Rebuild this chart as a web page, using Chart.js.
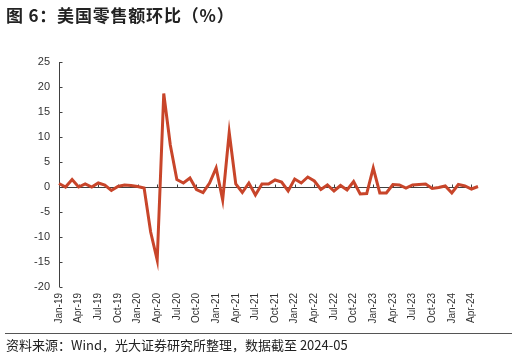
<!DOCTYPE html>
<html>
<head>
<meta charset="utf-8">
<script src="https://cdn.jsdelivr.net/npm/chart.js@4.4.1/dist/chart.umd.min.js"></script>
<style>
  html, body { margin: 0; padding: 0; background: #fff; }
  #wrap { position: relative; width: 516px; height: 363px; overflow: hidden; }
  #c { position: absolute; left: 0; top: 0; }
  #title { position: absolute; left: 6px; top: 2px; font: bold 17px "Noto Sans CJK SC", sans-serif; letter-spacing: 0.8px; color: #222; white-space: nowrap; }
  #rule { position: absolute; left: 5px; top: 333px; width: 507px; height: 1px; background: #555; }
  #src { position: absolute; left: 6px; top: 335px; font: 13px "Noto Sans CJK SC", sans-serif; color: #222; white-space: nowrap; }
</style>
</head>
<body>
<div id="wrap">
  <canvas id="c" width="516" height="363"></canvas>
  <div id="title">图 6：美国零售额环比（%）</div>
  <div id="rule"></div>
  <div id="src">资料来源：Wind，光大证券研究所整理，数据截至 2024-05</div>
</div>
<script>
const months = ["Jan","Feb","Mar","Apr","May","Jun","Jul","Aug","Sep","Oct","Nov","Dec"];
const years = ["19","20","21","22","23","24"];
const categories = [];
years.forEach(y => months.forEach(m => categories.push(m + "-" + y)));
categories.length = 65; // Jan-19 .. May-24

const retailMoM = [
  0.7, 0.0, 1.5, 0.0, 0.6, 0.0, 0.8, 0.4, -0.7, 0.1, 0.4, 0.3,
  0.1, -0.2, -9.0, -14.6, 18.7, 8.4, 1.5, 0.8, 1.8, -0.5, -1.1, 0.8,
  3.8, -2.6, 10.9, 0.6, -1.1, 0.8, -1.6, 0.6, 0.6, 1.4, 1.0, -0.8,
  1.6, 0.8, 2.0, 1.2, -0.5, 0.4, -0.8, 0.3, -0.6, 1.1, -1.4, -1.3,
  3.8, -1.2, -1.2, 0.5, 0.4, -0.2, 0.4, 0.5, 0.6, -0.3, -0.1, 0.2,
  -1.2, 0.5, 0.2, -0.4, 0.1
];

const yTicks = [25, 20, 15, 10, 5, 0, -5, -10, -15, -20];
const labelEvery = 3;

const axisPlugin = {
  id: 'axisLines',
  beforeDatasetsDraw(chart) {
    const { ctx, chartArea: a, scales: { x, y } } = chart;
    ctx.save();
    ctx.strokeStyle = '#404040';
    ctx.lineWidth = 1;
    ctx.beginPath();
    const xl = Math.round(a.left) + 0.5;
    ctx.moveTo(xl, a.top);
    ctx.lineTo(xl, a.bottom);
    y.ticks.forEach(t => {
      const py = Math.round(y.getPixelForValue(t.value)) + 0.5;
      ctx.moveTo(xl, py);
      ctx.lineTo(xl + 3, py);
    });
    const pz = Math.round(y.getPixelForValue(0)) + 0.5;
    ctx.moveTo(a.left, pz);
    ctx.lineTo(a.right, pz);
    for (let i = 0; i < categories.length; i += labelEvery) {
      const px = Math.round(x.getPixelForValue(i)) + 0.5;
      ctx.moveTo(px, pz);
      ctx.lineTo(px, pz - 3);
    }
    ctx.stroke();
    ctx.restore();
  }
};

new Chart(document.getElementById('c'), {
  type: 'line',
  data: {
    labels: categories,
    datasets: [{
      data: retailMoM,
      borderColor: '#C8452A',
      borderWidth: 3,
      pointRadius: 0,
      tension: 0,
      fill: false
    }]
  },
  options: {
    responsive: false,
    animation: false,
    devicePixelRatio: 1,
    layout: { padding: { top: 62, right: 38, bottom: 26, left: 0 } },
    plugins: { legend: { display: false }, tooltip: { enabled: false }, title: { display: false } },
    scales: {
      x: {
        type: 'category',
        offset: false,
        grid: { display: false, drawTicks: false },
        border: { display: false },
        ticks: {
          autoSkip: false,
          maxRotation: 90,
          minRotation: 90,
          padding: 6,
          color: '#333',
          font: { family: '"Liberation Sans", Arial, sans-serif', size: 10 },
          callback: (v, i) => (i % labelEvery === 0 ? categories[i] : null)
        },
        afterFit: s => { s.height = 50; }
      },
      y: {
        min: -20,
        max: 25,
        afterBuildTicks: s => { s.ticks = yTicks.map(v => ({ value: v })); },
        grid: { display: false, drawTicks: false },
        border: { display: false },
        ticks: {
          padding: 9,
          color: '#333',
          font: { family: '"Liberation Sans", Arial, sans-serif', size: 11 }
        },
        afterFit: s => { s.width = 59; }
      }
    }
  },
  plugins: [axisPlugin]
});
</script>
</body>
</html>
